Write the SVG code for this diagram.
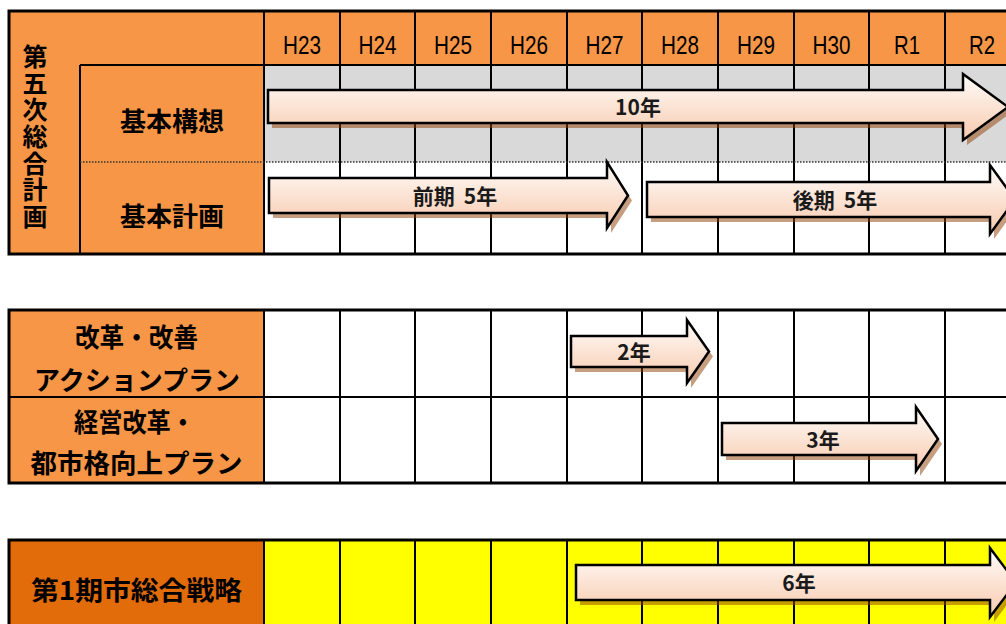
<svg xmlns="http://www.w3.org/2000/svg" width="1006" height="624" viewBox="0 0 1006 624">
<defs>
<linearGradient id="ag" x1="0" y1="0" x2="0" y2="1">
<stop offset="0" stop-color="#fffdfb"/>
<stop offset="1" stop-color="#f8c9ad"/>
</linearGradient>
<style>
.org{fill:#F79646}
.dorg{fill:#E26B0A}
.gray{fill:#D9D9D9}
.yel{fill:#FFFF00}
.wht{fill:#FFFFFF}
.ln{stroke:#000;stroke-width:2;fill:none}
.ob{stroke:#000;stroke-width:3;fill:none}
.dot{stroke:#333;stroke-width:1.5;stroke-dasharray:1.5 1.5;fill:none}
.hd{font-family:"Liberation Sans",Arial,sans-serif;font-size:25px;fill:#000;text-anchor:middle}
.lb{font-family:"Noto Sans CJK JP","Noto Sans",sans-serif;font-size:26px;font-weight:bold;fill:#000;text-anchor:middle}
.vt{font-family:"Noto Sans CJK JP","Noto Sans",sans-serif;font-size:25px;font-weight:bold;fill:#000;writing-mode:vertical-rl;letter-spacing:1.7px}
.at{font-family:"Noto Sans CJK JP","Noto Sans",sans-serif;font-size:21px;font-weight:bold;fill:#1a1a1a;text-anchor:middle}
.arr{fill:url(#ag);stroke:#000;stroke-width:2.5;stroke-linejoin:miter}
.sh{fill:#8f3d00;fill-opacity:0.5}
</style>
</defs>
<rect width="1006" height="624" fill="#fff"/>

<g id="table1">
<rect class="org" x="9" y="11" width="1011" height="54"/>
<rect class="org" x="9" y="65" width="255" height="189"/>
<rect class="gray" x="264" y="65" width="756" height="97"/>
<rect class="wht" x="264" y="162" width="756" height="92"/>
<path class="ln" d="M80,65V254M80,65H1010M264,11V254M340,11V254M415,11V254M491,11V254M567,11V254M642,11V254M718,11V254M794,11V254M869,11V254M945,11V254"/>
<path class="dot" d="M80,162H1010"/>
<path class="ob" d="M1010,11H9V254H1010"/>
</g>

<g id="header">
<text class="hd" x="302" y="54" textLength="38" lengthAdjust="spacingAndGlyphs">H23</text>
<text class="hd" x="377.5" y="54" textLength="38" lengthAdjust="spacingAndGlyphs">H24</text>
<text class="hd" x="453" y="54" textLength="38" lengthAdjust="spacingAndGlyphs">H25</text>
<text class="hd" x="529" y="54" textLength="38" lengthAdjust="spacingAndGlyphs">H26</text>
<text class="hd" x="604.5" y="54" textLength="38" lengthAdjust="spacingAndGlyphs">H27</text>
<text class="hd" x="680" y="54" textLength="38" lengthAdjust="spacingAndGlyphs">H28</text>
<text class="hd" x="756" y="54" textLength="38" lengthAdjust="spacingAndGlyphs">H29</text>
<text class="hd" x="831.5" y="54" textLength="38" lengthAdjust="spacingAndGlyphs">H30</text>
<text class="hd" x="907" y="54" textLength="26" lengthAdjust="spacingAndGlyphs">R1</text>
<text class="hd" x="982" y="54" textLength="26" lengthAdjust="spacingAndGlyphs">R2</text>
</g>

<g id="label-dai5ji">
<text class="vt" x="35" y="44">第五次総合計画</text>
</g>
<g id="label-kihonkoso"><text class="lb" x="172" y="131">基本構想</text></g>
<g id="label-kihonkeikaku"><text class="lb" x="172" y="226">基本計画</text></g>

<g id="table2">
<rect class="org" x="9" y="310" width="255" height="173"/>
<rect class="wht" x="264" y="310" width="756" height="173"/>
<path class="ln" d="M9,397H1010M264,310V483M340,310V483M415,310V483M491,310V483M567,310V483M642,310V483M718,310V483M794,310V483M869,310V483M945,310V483"/>
<path class="ob" d="M1010,310H9V483H1010"/>
</g>
<g id="label-action"><text class="lb" x="136.5" y="347" textLength="123" lengthAdjust="spacingAndGlyphs">改革・改善</text><text class="lb" x="137" y="390">アクションプラン</text></g>
<g id="label-keiei"><text class="lb" x="134.5" y="432" textLength="121" lengthAdjust="spacingAndGlyphs">経営改革・</text><text class="lb" x="136.5" y="473" textLength="212" lengthAdjust="spacingAndGlyphs">都市格向上プラン</text></g>

<g id="table3">
<rect class="dorg" x="9" y="540" width="255" height="90"/>
<rect class="yel" x="264" y="540" width="756" height="90"/>
<path class="ln" d="M264,540V630M340,540V630M415,540V630M491,540V630M567,540V630M642,540V630M718,540V630M794,540V630M869,540V630M945,540V630"/>
<path class="ob" d="M1010,540H9V630"/>
</g>
<g id="label-senryaku"><text class="lb" x="136.5" y="600" textLength="211" lengthAdjust="spacingAndGlyphs">第1期市総合戦略</text></g>

<g id="connectors">
<g id="arrow-10">
<path class="sh" transform="translate(4,5)" d="M268,90H963V74L1008,107L963,140V123H268Z"/>
<path class="arr" d="M268,90H963V74L1008,107L963,140V123H268Z"/>
<text class="at" x="638" y="114.5">10年</text>
</g>
<g id="arrow-zenki">
<path class="sh" transform="translate(4,5)" d="M269,178H607V162L628,195.5L607,228V213H269Z"/>
<path class="arr" d="M269,178H607V162L628,195.5L607,228V213H269Z"/>
<text class="at" x="455" y="203.5">前期<tspan dx="9">5年</tspan></text>
</g>
<g id="arrow-koki">
<path class="sh" transform="translate(4,5)" d="M647,182H990V165L1015,199.5L990,234V217H647Z"/>
<path class="arr" d="M647,182H990V165L1015,199.5L990,234V217H647Z"/>
<text class="at" x="835" y="207.5">後期<tspan dx="9">5年</tspan></text>
</g>
<g id="arrow-2">
<path class="sh" transform="translate(4,5)" d="M571,336H687V320L709,351.5L687,383V367H571Z"/>
<path class="arr" d="M571,336H687V320L709,351.5L687,383V367H571Z"/>
<text class="at" x="634" y="359.5">2年</text>
</g>
<g id="arrow-3">
<path class="sh" transform="translate(4,5)" d="M722,423H916V407L938,439L916,471V455H722Z"/>
<path class="arr" d="M722,423H916V407L938,439L916,471V455H722Z"/>
<text class="at" x="823" y="447.5">3年</text>
</g>
<g id="arrow-6">
<path class="sh" transform="translate(4,5)" d="M576,565H990V548L1016,582.5L990,617V600H576Z"/>
<path class="arr" d="M576,565H990V548L1016,582.5L990,617V600H576Z"/>
<text class="at" x="799" y="590.5">6年</text>
</g>
</g>
</svg>
